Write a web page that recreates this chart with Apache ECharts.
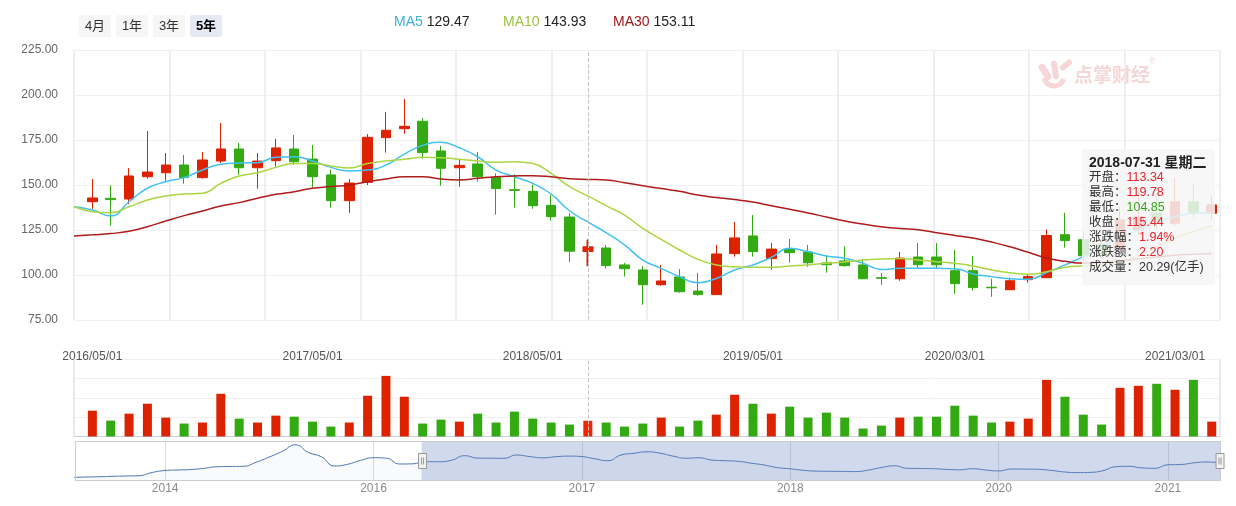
<!DOCTYPE html>
<html><head><meta charset="utf-8">
<script src="https://cdn.jsdelivr.net/npm/echarts@6/dist/echarts.min.js"></script>
<style>html,body{margin:0;padding:0;background:#fff}#c{width:1236px;height:506px}</style>
</head><body><div id="c"></div>
<script>
// ---- data ----
const opens  = [140.7,142.6,142.2,154.6,156.8,161.1,154.1,163.3,170.0,159.6,163.5,170.0,164.4,155.6,141.3,151.5,176.3,181.3,185.4,168.9,159.6,161.7,154.3,147.4,146.5,138.7,132.2,113.34,115.0,105.6,102.8,94.6,98.9,91.1,89.1,111.9,121.7,109.1,114.4,112.8,106.7,107.8,105.6,98.5,97.9,110.0,110.0,102.4,102.4,93.2,91.8,97.4,98.5,122.4,119.6,117.0,114.0,125.0,134.4,128.7,140.7,134.3];
const closes = [142.8,141.9,155.0,157.2,161.1,154.1,163.9,170.0,159.6,163.3,170.6,162.9,154.6,141.3,151.1,176.5,180.4,182.6,168.0,159.3,160.9,154.6,148.0,147.0,138.5,132.4,113.24,115.44,105.2,103.5,94.6,96.7,90.7,89.1,111.7,120.6,113.0,114.4,112.4,106.8,105.7,105.2,97.9,98.2,109.4,105.7,105.7,95.2,93.0,92.9,96.8,99.1,121.9,119.1,110.7,112.0,130.6,132.4,128.9,140.7,134.6,138.9];
const lows   = [136.7,127.4,139.4,153.5,152.4,150.7,153.5,162.2,155.6,148.0,160.2,161.3,148.5,137.4,134.6,150.0,168.0,178.5,164.6,149.6,149.1,151.8,133.5,137.4,136.8,130.2,107.2,104.85,103.5,99.1,83.5,94.1,90.2,88.5,89.1,110.2,110.2,103.0,106.8,104.6,101.3,104.6,97.9,94.6,96.8,104.0,104.0,89.6,91.3,87.9,91.8,95.7,98.5,115.2,108.0,110.0,112.0,122.0,126.0,127.0,132.0,131.0];
const highs  = [153.3,149.8,159.4,180.0,167.8,166.7,168.3,184.4,173.3,167.8,175.6,177.8,172.2,158.5,153.3,178.3,190.6,197.8,187.2,171.7,163.9,168.3,156.5,155.9,150.2,144.4,134.3,119.78,116.7,106.7,105.0,105.6,103.3,101.1,116.7,129.4,133.3,117.8,120.0,116.7,110.6,116.1,108.9,101.1,112.8,117.8,117.8,113.9,110.6,97.9,98.5,100.2,125.2,134.6,124.0,119.0,138.0,146.0,143.0,153.9,151.0,144.0];
const volumes = [33.3,20.5,29.5,42.3,24.4,16.7,18.0,55.1,23.1,18.0,26.9,25.6,19.2,12.8,18.0,52.6,78.2,51.3,16.7,21.8,19.2,29.5,18.0,32.1,23.1,18.0,15.4,20.29,18.0,12.8,16.7,24.4,12.8,20.5,28.2,53.9,42.3,29.5,38.5,24.4,30.8,24.4,10.3,14.1,24.4,25.6,25.6,39.7,26.9,18.0,19.2,23.1,73.1,51.3,28.2,15.4,62.8,65.4,68.0,60.3,73.1,19.2];
// moving averages, first value belongs to the period just before the first candle
const maStart = -1;
const ma5  = [137.9,136.1,132.8,140.7,148.2,151.8,154.1,158.3,161.5,162.2,162.4,165.4,165.7,163.3,159.8,157.8,158.3,161.1,167.2,172.0,173.7,170.7,165.7,158.3,154.6,150.9,145.0,135.7,129.47,123.5,116.7,108.3,103.7,99.1,95.7,98.1,102.8,105.6,109.8,114.8,113.0,110.6,109.3,106.5,103.1,103.7,103.7,103.7,103.5,100.6,99.1,97.9,97.6,101.3,105.6,110.2,115.7,120.4,125.0,129.6,132.4,134.3,134.6];
const ma10 = [137.9,135.2,134.6,137.9,141.7,143.9,145.0,145.4,150.9,155.0,156.8,159.8,162.0,162.0,160.6,159.4,162.0,163.3,164.3,165.4,165.2,164.3,163.3,162.6,162.9,162.0,156.5,149.1,143.93,138.5,133.3,125.9,119.8,113.9,108.7,105.6,104.6,104.3,104.3,105.0,105.6,106.5,107.2,108.3,108.9,109.1,108.3,107.4,106.5,105.0,102.8,101.3,100.4,101.8,104.3,105.2,105.6,107.4,110.2,115.7,120.4,124.1,127.2];
const ma30 = [121.7,122.3,123.0,124.3,126.8,130.0,133.0,135.6,138.3,140.2,142.6,144.8,146.3,148.2,149.1,150.0,151.8,153.3,154.6,154.6,153.3,152.8,153.7,154.6,155.0,155.2,154.6,153.5,153.11,152.8,151.3,149.6,148.0,146.5,144.4,143.0,141.9,140.5,138.5,136.5,134.5,132.2,130.0,128.3,126.8,125.8,125.2,123.5,122.0,120.5,118.3,115.7,112.6,109.5,107.6,106.6,106.8,107.8,109.0,110.0,111.0,111.5,112.0];
const labelIdx  = [0, 12, 24, 36, 47, 59];
const labelText = ['2016/05/01','2017/05/01','2018/05/01','2019/05/01','2020/03/01','2021/03/01'];
const priceTicks = [75, 100, 125, 150, 175, 200, 225];
// navigator (whole history) close line
const navValues = [57.6,59,60.4,62.3,63.8,65.2,80.4,89.9,92.3,94.6,100.3,107.9,108.9,109.8,129.3,154,181.1,212,175.4,155,111.3,119.3,137.9,150.7,148.3,120.8,121.7,131.7,131.7,138.8,160.2,148.8,148.3,147.8,163.5,155.9,150.2,155.4,158.3,155.9,145.5,136.4,163.5,171.6,178.7,172,158.3,148.3,150.2,139.3,136.4,133.6,124.6,116,103.7,98,90.8,87,86.1,85.6,84.7,91.8,104.1,112.2,100.3,99.4,98.4,95.1,93.2,98.4,92.3,88,97,96.5,95.6,90.8,83.2,79.9,80.9,88.9,107.9,109.8,102.2,100.3,117,118.4,126.5,130.3,126.5];
const navTickIdx  = [7, 23, 39, 55, 71, 84];
const navTickText = ['2014','2016','2017','2018','2020','2021'];
const rangeButtons = ['4月','1年','3年','5年'];
const activeButton = 3;
const hoverIndex = 27;
const hoverDate = '2018-07-31 星期二';
const volUnit = '(亿手)';

// ---- styles ----
const FONT = '"Liberation Sans", Arial, "Noto Sans CJK SC", sans-serif';
const UP = '#dd2200', DOWN = '#33aa11';
const C5 = '#3cb0dc', C10 = '#9dc23c', C30 = '#a01a1a';
const TIP_UP = '#e6262e', TIP_DOWN = '#35a51c';

const chart = echarts.init(document.getElementById('c'), null, {renderer: 'canvas'});

const candleData = opens.map((o, i) => [i, o, closes[i], lows[i], highs[i]]);
const volData = volumes.map((v, i) => ({value: [i, v], itemStyle: {color: closes[i] >= opens[i] ? UP : DOWN}}));
const maLine = arr => arr.map((v, i) => [i + maStart, v]);
const maAt = (arr, i) => arr[i - maStart];

function tipFormatter(params) {
  const p = params.find(q => q.seriesType === 'candlestick') || params[0];
  const i = p.dataIndex;
  const prev = i > 0 ? closes[i - 1] : opens[i];
  const col = v => v >= prev ? TIP_UP : TIP_DOWN;
  const chg = closes[i] - prev;
  const pct = chg / prev * 100;
  const row = (k, v, c) => '<div>' + k + '：<span style="color:' + c + '">' + v + '</span></div>';
  return '<div style="font-weight:bold;color:#222;font-size:14px">' + hoverDate + '</div>' +
    row('开盘', opens[i].toFixed(2), col(opens[i])) +
    row('最高', highs[i].toFixed(2), col(highs[i])) +
    row('最低', lows[i].toFixed(2), col(lows[i])) +
    row('收盘', closes[i].toFixed(2), col(closes[i])) +
    row('涨跌幅', pct.toFixed(2) + '%', chg >= 0 ? TIP_UP : TIP_DOWN) +
    row('涨跌额', chg.toFixed(2), chg >= 0 ? TIP_UP : TIP_DOWN) +
    row('成交量', volumes[i].toFixed(2) + volUnit, '#333');
}

// graphic: range buttons, MA legend, watermark
const graphics = [];
rangeButtons.forEach((t, k) => {
  graphics.push({type: 'rect', x: 79 + k * 37, y: 15, shape: {x: 0, y: 0, width: 32, height: 22, r: 2},
    style: {fill: k === activeButton ? '#e4e9f4' : '#f6f6f6'}, silent: true});
  graphics.push({type: 'text', x: 95 + k * 37, y: 26, silent: true,
    style: {text: t, align: 'center', verticalAlign: 'middle', fill: k === activeButton ? '#000' : '#333',
      font: (k === activeButton ? 'bold ' : '') + '13px ' + FONT}});
});
[['MA5', ma5, C5, 394], ['MA10', ma10, C10, 503], ['MA30', ma30, C30, 613]].forEach(([n, arr, c, x]) => {
  graphics.push({type: 'text', x: x, y: 22, silent: true,
    style: {text: '{a|' + n + '} {b|' + maAt(arr, hoverIndex).toFixed(2) + '}', verticalAlign: 'middle',
      font: '14px ' + FONT, rich: {a: {fill: c, font: '14px ' + FONT}, b: {fill: '#222', font: '14px ' + FONT}}}});
});
const WM = '#f6d6d6';
graphics.push(
  {type: 'rect', x: 1045, y: 72, rotation: 0.55, shape: {x: -3.5, y: -9, width: 7, height: 18, r: 3.5}, style: {fill: WM}, silent: true},
  {type: 'rect', x: 1055, y: 70, rotation: 0.15, shape: {x: -3, y: -9.5, width: 6, height: 19, r: 3}, style: {fill: WM}, silent: true},
  {type: 'rect', x: 1066, y: 65, rotation: -0.9, shape: {x: -3, y: -7, width: 6, height: 14, r: 3}, style: {fill: WM}, silent: true},
  {type: 'arc', shape: {cx: 1054, cy: 76, r: 10, startAngle: 0.3, endAngle: Math.PI - 0.2}, style: {stroke: WM, lineWidth: 5, fill: 'none'}, silent: true},
  {type: 'text', x: 1074, y: 75, silent: true, style: {text: '点掌财经', verticalAlign: 'middle', fill: WM, font: 'bold 19px "Noto Sans CJK SC", sans-serif'}},
  {type: 'text', x: 1149, y: 62, silent: true, style: {text: '®', verticalAlign: 'middle', fill: WM, font: '9px ' + FONT}}
);

const hideAxisParts = {axisLine: {show: false}, axisTick: {show: false}, axisLabel: {show: false}};

const option = {
  animation: false,
  backgroundColor: '#fff',
  textStyle: {fontFamily: FONT},
  grid: [
    {left: 74, right: 16, top: 50, height: 270},
    {left: 74, right: 16, top: 359, height: 77.5},
    {left: 74, right: 16, top: 441, height: 40}
  ],
  axisPointer: {link: [{xAxisIndex: [0, 1]}]},
  tooltip: {
    trigger: 'axis', triggerOn: 'none', alwaysShowContent: true, transitionDuration: 0,
    position: [1082, 149],
    backgroundColor: 'rgba(246,246,246,0.86)', borderWidth: 0, borderColor: 'rgba(0,0,0,0)',
    padding: [6, 8, 10, 7],
    textStyle: {color: '#333', fontSize: 12.5, fontFamily: FONT},
    extraCssText: 'box-shadow:none;border-radius:3px;line-height:15px;',
    axisPointer: {type: 'line', lineStyle: {color: '#c4c4c4', type: 'dashed', width: 1}, label: {show: false}},
    formatter: tipFormatter
  },
  xAxis: [
    {type: 'value', gridIndex: 0, min: -1, max: 61.45,
      axisLine: {show: false}, axisTick: {show: false}, splitLine: {show: false},
      axisLabel: {customValues: labelIdx, formatter: v => labelText[labelIdx.indexOf(v)] || '', margin: 31, color: '#555', fontSize: 12}},
    {type: 'value', gridIndex: 1, min: -1, max: 61.45,
      axisLine: {show: true, onZero: false, lineStyle: {color: '#c5cfe0', width: 1}}, axisTick: {show: false}, axisLabel: {show: false}, splitLine: {show: false}},
    {type: 'category', gridIndex: 2, boundaryGap: false, data: navValues.map((_, i) => String(i)),
      axisLine: {show: false}, axisTick: {show: false}, axisPointer: {show: false},
      axisLabel: {interval: (i) => navTickIdx.indexOf(i) >= 0, formatter: (v, i) => navTickText[navTickIdx.indexOf(i)] || '', color: '#8a8a8a', fontSize: 12, margin: 2},
      splitLine: {show: true, interval: (i) => navTickIdx.indexOf(i) >= 0, lineStyle: {color: '#dcdcdc'}}},
    {type: 'value', gridIndex: 2, min: 0, max: 100, show: false, axisPointer: {show: false}},
    {type: 'value', gridIndex: 0, min: 0, max: 12, interval: 1, ...hideAxisParts, axisPointer: {show: false},
      splitLine: {show: true, lineStyle: {color: '#e6ebf2', width: 1.5}}},
    {type: 'value', gridIndex: 1, min: 0, max: 1, interval: 1, ...hideAxisParts, axisPointer: {show: false},
      splitLine: {show: true, lineStyle: {color: '#dce3ee', width: 1.5}}}
  ],
  yAxis: [
    {type: 'value', gridIndex: 0, min: priceTicks[0], max: priceTicks[priceTicks.length - 1], interval: 25,
      axisLine: {show: false}, axisTick: {show: false},
      axisLabel: {formatter: v => v.toFixed(2), color: '#666', fontSize: 12, margin: 16},
      splitLine: {show: true, lineStyle: {color: '#f1f1f1'}}},
    {type: 'value', gridIndex: 1, min: 0, max: 100, interval: 25,
      axisLine: {show: false}, axisTick: {show: false}, axisLabel: {show: false},
      splitLine: {show: true, lineStyle: {color: '#f1f1f1'}}},
    {type: 'value', gridIndex: 2, min: 40, max: 230, show: false}
  ],
  dataZoom: [{
    type: 'slider', xAxisIndex: 3, start: 30.24, end: 100, filterMode: 'none',
    left: 74, right: 16, top: 441, height: 40,
    showDataShadow: false, showDetail: false, brushSelect: false, zoomLock: false,
    backgroundColor: 'rgba(0,0,0,0)', borderColor: '#cccccc', borderRadius: 0,
    fillerColor: 'rgba(102,133,194,0.3)',
    dataBackground: {lineStyle: {opacity: 0}, areaStyle: {opacity: 0}},
    selectedDataBackground: {lineStyle: {opacity: 0}, areaStyle: {opacity: 0}},
    handleIcon: 'path://M0,0H8V15H0Z M3,4V11 M5,4V11',
    handleSize: 15,
    handleStyle: {color: '#f2f2f2', borderColor: '#999', borderWidth: 1},
    moveHandleSize: 0, moveHandleStyle: {opacity: 0},
    emphasis: {handleStyle: {color: '#f2f2f2', borderColor: '#999'}, moveHandleStyle: {opacity: 0}}
  }],
  series: [
    {name: 'K', type: 'candlestick', xAxisIndex: 0, yAxisIndex: 0, data: candleData,
      encode: {x: 0, y: [1, 2, 3, 4]}, barWidth: 10,
      itemStyle: {color: UP, color0: DOWN, borderColor: UP, borderColor0: DOWN, borderWidth: 1}},
    {name: 'VOL', type: 'bar', xAxisIndex: 1, yAxisIndex: 1, data: volData, barWidth: 9},
    {name: 'MA5', type: 'line', xAxisIndex: 0, yAxisIndex: 0, data: maLine(ma5), smooth: true, showSymbol: false, symbol: 'none',
      lineStyle: {color: C5, width: 1.5}, itemStyle: {color: C5}},
    {name: 'MA10', type: 'line', xAxisIndex: 0, yAxisIndex: 0, data: maLine(ma10), smooth: true, showSymbol: false, symbol: 'none',
      lineStyle: {color: C10, width: 1.5}, itemStyle: {color: C10}},
    {name: 'MA30', type: 'line', xAxisIndex: 0, yAxisIndex: 0, data: maLine(ma30), smooth: true, showSymbol: false, symbol: 'none',
      lineStyle: {color: C30, width: 1.5}, itemStyle: {color: C30}},
    {name: 'NAV', type: 'line', xAxisIndex: 2, yAxisIndex: 2, data: navValues, smooth: true, showSymbol: false, symbol: 'none',
      silent: true, lineStyle: {color: '#4a74b0', width: 1}, areaStyle: {color: 'rgba(74,116,176,0.05)'}},
    {name: 'zoomTarget', type: 'line', xAxisIndex: 3, yAxisIndex: 2, data: [[0, 40], [100, 40]], silent: true,
      symbol: 'none', lineStyle: {opacity: 0}}
  ],
  graphic: {elements: graphics}
};

chart.setOption(option);
chart.dispatchAction({type: 'showTip', seriesIndex: 0, dataIndex: hoverIndex});
</script>
</body></html>
